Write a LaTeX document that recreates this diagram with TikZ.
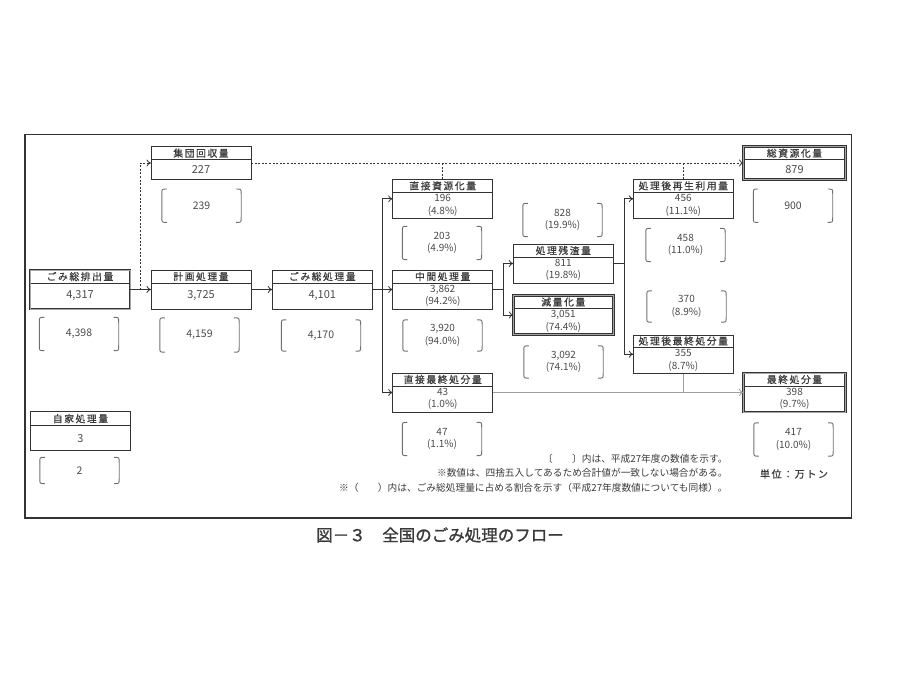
\documentclass[tikz,border=0pt]{standalone}
\usepackage{fontspec}
\setmainfont{Noto Sans CJK JP}
\newfontfamily\hdrfont[LetterSpace=16,FakeBold=0.6]{Noto Sans CJK JP}
\usetikzlibrary{positioning,fit,calc,arrows.meta}
\definecolor{linec}{HTML}{333333}
\definecolor{txtc}{HTML}{3A3A3A}
\definecolor{valc}{HTML}{4A4A4A}
\definecolor{brkc}{HTML}{707070}
\definecolor{gryc}{HTML}{A0A0A0}

\begin{document}
\begin{tikzpicture}[x=1pt,y=-1pt,
hdr/.style={draw=linec,line width=1pt,outer sep=0pt,inner sep=0pt,
  minimum width=100pt,minimum height=13pt,anchor=north west,
  font=\hdrfont\fontsize{9.8}{10}\selectfont,text=txtc},
val/.style={draw=linec,line width=1pt,outer sep=0pt,inner sep=0pt,
  minimum width=100pt,minimum height=26pt,align=center,
  font=\fontsize{10}{12.6}\selectfont,text=valc},
big/.style={font=\fontsize{11}{12}\selectfont},
boxfit/.style={inner sep=0pt,outer sep=0pt},
heavy/.style={boxfit,draw=linec,line width=1pt,double=gray!70,double distance=0.8pt},
brk/.style={minimum width=79pt,minimum height=33pt,inner sep=0pt,align=center,
  font=\fontsize{10}{12.6}\selectfont,text=valc},
one/.style={font=\fontsize{10.5}{12}\selectfont},
brkline/.style={draw=brkc,line width=0.9pt},
arr/.style={draw=linec,line width=0.8pt,-{To[length=4.5pt,width=7pt]}},
dashln/.style={draw=linec,line width=0.8pt,dash pattern=on 2pt off 1.6pt},
gryln/.style={draw=gryc,line width=0.8pt},
note/.style={anchor=east,font=\fontsize{9.7}{11}\selectfont,text=txtc}
]
\useasboundingbox (0,0) rectangle (900,675);
\draw[linec,line width=1.2pt] (25,134.5) rectangle (851.5,518);

\node[hdr] (emitH) at (30,270) {ごみ総排出量};
\node[val,big,below=0pt of emitH] (emitB) {4,317};
\node[heavy,fit=(emitH)(emitB)] (emit) {};

\node[hdr] (grpH) at (151,146.7) {集団回収量};
\node[val,big,minimum height=19.6pt,below=0pt of grpH] (grpB) {227};
\node[boxfit,fit=(grpH)(grpB)] (grp) {};

\node[hdr] (planH) at (151,270) {計画処理量};
\node[val,big,below=0pt of planH] (planB) {3,725};
\node[boxfit,fit=(planH)(planB)] (plan) {};

\node[hdr,minimum height=14pt] (selfH) at (30.5,411.7) {自家処理量};
\node[val,big,minimum height=25pt,below=0pt of selfH] (selfB) {3};

\node[hdr] (totalH) at (272.3,270) {ごみ総処理量};
\node[val,big,below=0pt of totalH] (totalB) {4,101};
\node[boxfit,fit=(totalH)(totalB)] (total) {};

\node[hdr] (direcH) at (392.7,179.3) {直接資源化量};
\node[val,below=0pt of direcH] (direcB) {196\\(4.8\%)};
\node[boxfit,fit=(direcH)(direcB)] (direc) {};

\node[hdr] (midH) at (392.7,270) {中間処理量};
\node[val,below=0pt of midH] (midB) {3,862\\(94.2\%)};
\node[boxfit,fit=(midH)(midB)] (mid) {};

\node[hdr] (dlandH) at (392.7,373) {直接最終処分量};
\node[val,below=0pt of dlandH] (dlandB) {43\\(1.0\%)};
\node[boxfit,fit=(dlandH)(dlandB)] (dland) {};

\node[hdr] (residH) at (513.3,244) {処理残渣量};
\node[val,below=0pt of residH] (residB) {811\\(19.8\%)};
\node[boxfit,fit=(residH)(residB)] (resid) {};

\node[hdr] (reducH) at (513.3,295.5) {減量化量};
\node[val,below=0pt of reducH] (reducB) {3,051\\(74.4\%)};
\node[heavy,fit=(reducH)(reducB)] (reduc) {};

\node[hdr] (reuseH) at (633.3,179.3) {処理後再生利用量};
\node[val,below=0pt of reuseH] (reuseB) {456\\(11.1\%)};
\node[boxfit,fit=(reuseH)(reuseB)] (reuse) {};

\node[hdr,minimum height=12pt] (plandH) at (633.3,335) {処理後最終処分量};
\node[val,minimum height=26.5pt,below=0pt of plandH] (plandB) {355\\(8.7\%)};
\node[boxfit,fit=(plandH)(plandB)] (pland) {};

\node[hdr,minimum width=102pt] (recyH) at (743.5,146.7) {総資源化量};
\node[val,big,minimum width=102pt,minimum height=19.6pt,below=0pt of recyH] (recyB) {879};
\node[heavy,fit=(recyH)(recyB)] (recy) {};

\node[hdr,minimum width=102pt] (landH) at (743.5,373) {最終処分量};
\node[val,minimum width=102pt,below=0pt of landH] (landB) {398\\(9.7\%)};
\node[heavy,fit=(landH)(landB)] (land) {};

\node[brk,one] (bEmit) at (79,334) {4,398};
\node[brk,one] (bGrp) at (201.5,205.7) {239};
\node[brk,one,minimum height=34pt] (bPlan) at (199.5,335) {4,159};
\node[brk,one,minimum height=26pt] (bSelf) at (79.5,470.5) {2};
\node[brk,one,minimum height=31pt] (bTotal) at (321,335.5) {4,170};
\node[brk] (bDirec) at (442,243) {203\\(4.9\%)};
\node[brk,minimum height=31pt] (bMid) at (442.5,335.5) {3,920\\(94.0\%)};
\node[brk] (bDland) at (442,439) {47\\(1.1\%)};
\node[brk] (bResid) at (562.5,220) {828\\(19.9\%)};
\node[brk,minimum height=32pt] (bReduc) at (563.5,362) {3,092\\(74.1\%)};
\node[brk] (bReuse) at (685.5,245) {458\\(11.0\%)};
\node[brk,minimum height=31pt] (bPost) at (686.5,306.5) {370\\(8.9\%)};
\node[brk,one] (bRecy) at (793,205.7) {900};
\node[brk] (bLand) at (793.5,439.5) {417\\(10.0\%)};

\foreach \b in {bEmit,bGrp,bPlan,bSelf,bTotal,bDirec,bMid,bDland,bResid,bReduc,bReuse,bPost,bRecy,bLand}{
\draw[brkline] ([xshift=5pt]\b.north west) .. controls (\b.north west) .. ([yshift=-5pt]\b.north west)
  -- ([yshift=5pt]\b.south west) .. controls (\b.south west) .. ([xshift=5pt]\b.south west);
\draw[brkline] ([xshift=-5pt]\b.north east) .. controls (\b.north east) .. ([yshift=-5pt]\b.north east)
  -- ([yshift=5pt]\b.south east) .. controls (\b.south east) .. ([xshift=-5pt]\b.south east);
}

\coordinate (split1) at ([xshift=10pt]emit.east);
\coordinate (split2) at ([xshift=10.3pt]total.east);
\coordinate (split3) at ([xshift=10.8pt]mid.east);
\coordinate (split4) at ([xshift=11.3pt]resid.east);

\draw[arr] (emit.east) -- (plan.west);
\draw[dashln,-{To[length=4.5pt,width=7pt]}] (split1) |- (grp.west);
\draw[dashln,-{To[length=4.5pt,width=7pt]}] (grp.east) -- (recy.west);
\draw[dashln] (direc.north) -- (direc.north |- grp.east);
\draw[dashln] (reuse.north) -- (reuse.north |- grp.east);
\draw[arr] (plan.east) -- (total.west);
\draw[arr] (total.east) -- (mid.west);
\draw[arr] (split2) |- (direc.west);
\draw[arr] (split2) |- (dland.west);
\draw[arr] (mid.east) -- (split3) |- (resid.west);
\draw[arr] (split3) |- (reduc.west);
\draw[arr] (resid.east) -- (split4) |- (reuse.west);
\draw[arr] (split4) |- (pland.west);
\draw[gryln,-{To[length=4.5pt,width=7pt]}] (dland.east) -- (land.west);
\draw[gryln] (pland.south) -- (pland.south |- land.west);

\node[note] (note1) at (731,458.5) {〔　　〕内は、平成27年度の数値を示す。};
\node[note] (note2) at (731,473) {※数値は、四捨五入してあるため合計値が一致しない場合がある。};
\node[note] (note3) at (731,487.5) {※（　　）内は、ごみ総処理量に占める割合を示す（平成27年度数値についても同様）。};
\node[font=\hdrfont\fontsize{10}{12}\selectfont,text=txtc] (unit) at (794,474) {単位：万トン};

\node[font=\fontsize{16.5}{18}\selectfont,text=txtc] (caption) at (440,535) {\addfontfeature{FakeBold=1.2}図－３　全国のごみ処理のフロー};
\end{tikzpicture}
\end{document}
